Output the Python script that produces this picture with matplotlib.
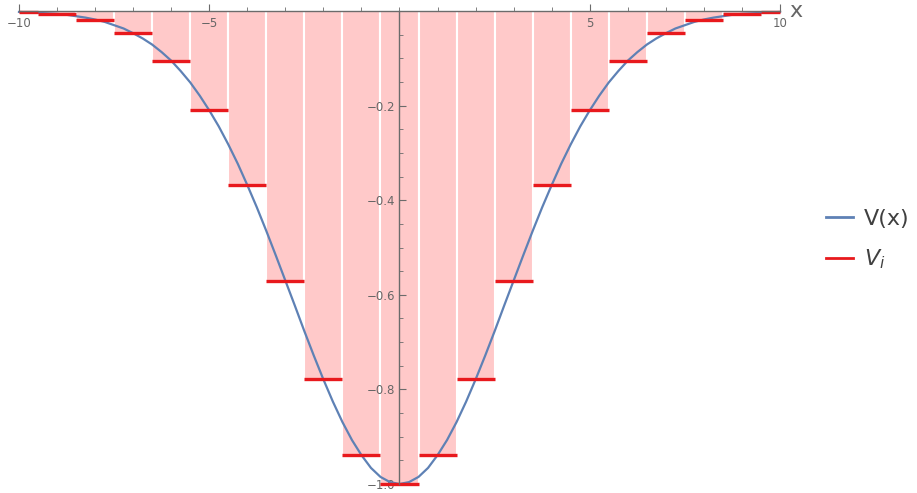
import matplotlib

matplotlib.use("Agg")
import matplotlib.pyplot as plt
import numpy as np
from matplotlib.lines import Line2D
from matplotlib.ticker import MultipleLocator, FixedLocator

# bar edges (half-width bars at the two ends) and step values V_i at bar centres
bar_edges = [-10, -9.5, -8.5, -7.5, -6.5, -5.5, -4.5, -3.5, -2.5, -1.5, -0.5,
             0.5, 1.5, 2.5, 3.5, 4.5, 5.5, 6.5, 7.5, 8.5, 9.5, 10]
step_values = [-0.002, -0.006, -0.018, -0.047, -0.105, -0.210, -0.368, -0.570,
               -0.779, -0.939, -1.000, -0.939, -0.779, -0.570, -0.368, -0.210,
               -0.105, -0.047, -0.018, -0.006, -0.002]

# sampled potential curve V(x), x >= 0 half (symmetric)
curve_x_half = np.arange(0, 10.01, 0.25)
curve_v_half = [-1.000, -0.996, -0.985, -0.966, -0.939, -0.907, -0.869, -0.826,
                -0.779, -0.729, -0.677, -0.623, -0.570, -0.517, -0.465, -0.415,
                -0.368, -0.323, -0.282, -0.244, -0.210, -0.179, -0.151, -0.127,
                -0.105, -0.087, -0.071, -0.058, -0.047, -0.037, -0.030, -0.023,
                -0.018, -0.014, -0.011, -0.008, -0.006, -0.005, -0.004, -0.003,
                -0.002]

xmajor = [-10, -5, 5, 10]
ymajor = [-1.0, -0.8, -0.6, -0.4, -0.2]

curve_x = np.concatenate([-curve_x_half[:0:-1], curve_x_half])
curve_v = np.concatenate([curve_v_half[:0:-1], curve_v_half])

edges = np.array(bar_edges)
lefts = edges[:-1]
widths = np.diff(edges)

fig = plt.figure(figsize=(9.17, 4.93), dpi=100)
ax = fig.add_axes([19 / 917, 9 / 493, (780 - 19) / 917, (484 - 11) / 493])

ax.bar(lefts, step_values, width=widths, align="edge", color="#FFC9C9",
       edgecolor="white", linewidth=1.5, zorder=1)
ax.plot(curve_x, curve_v, color="#5E81B5", lw=1.6, zorder=3, clip_on=False)
ax.hlines(step_values, lefts, lefts + widths, color="#E8191D", lw=2.4,
          zorder=4, clip_on=False)

ax.set_xlim(-10, 10)
ax.set_ylim(-1.0, 0)

for s in ("top", "right"):
    ax.spines[s].set_visible(False)
ax.spines["left"].set_position(("data", 0))
ax.spines["bottom"].set_position(("data", 0))
for s in ("left", "bottom"):
    ax.spines[s].set_color("#6b6b6b")
    ax.spines[s].set_linewidth(1.0)
    ax.spines[s].set_zorder(5)

ax.xaxis.set_major_locator(FixedLocator(xmajor))
ax.xaxis.set_minor_locator(MultipleLocator(1))
ax.yaxis.set_major_locator(FixedLocator(ymajor))
ax.yaxis.set_minor_locator(MultipleLocator(0.05))
ax.set_xticklabels([f"{v:g}".replace("-", "\u2212") for v in xmajor])
ax.set_yticklabels([f"{v:.1f}".replace("-", "\u2212") for v in ymajor])

ax.tick_params(axis="both", which="both", direction="in", color="#6b6b6b",
               labelcolor="#666666", labelsize=8.5)
ax.tick_params(axis="both", which="major", length=5, width=0.8)
ax.tick_params(axis="both", which="minor", length=3, width=0.6)
ax.tick_params(axis="x", pad=4)
ax.tick_params(axis="y", pad=3)

ax.text(10.25, 0, "x", fontsize=16, color="#666666", va="center", ha="left",
        clip_on=False)

handles = [Line2D([], [], color="#5E81B5", lw=2.0),
           Line2D([], [], color="#E8191D", lw=2.0)]
fig.legend(handles, ["V(x)", "$V_i$"], loc="center left",
           bbox_to_anchor=(806 / 917, 1 - 240 / 493), frameon=False,
           fontsize=16, handlelength=1.2, handletextpad=0.5,
           labelspacing=0.85, labelcolor="#404040")

fig.savefig("out.png", dpi=100)
